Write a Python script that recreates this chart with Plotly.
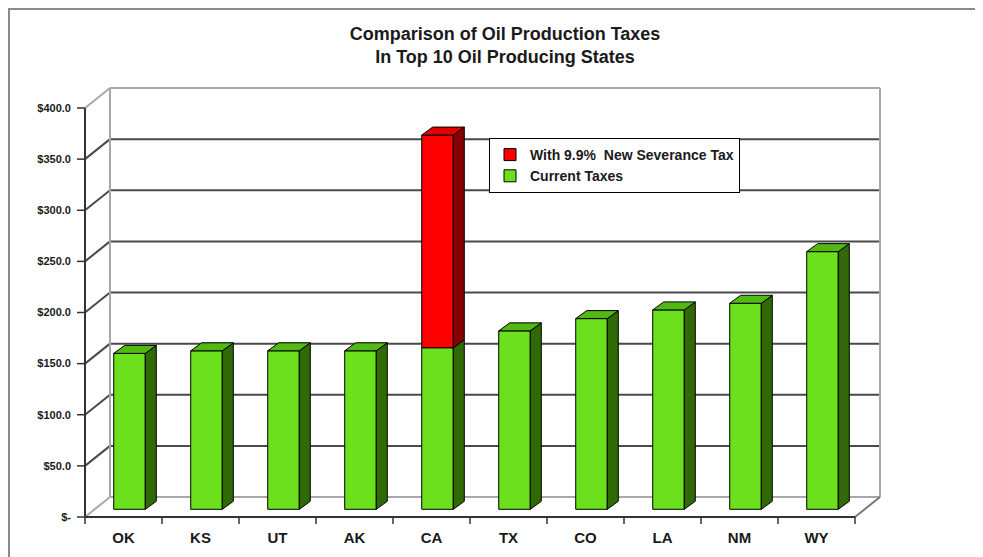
import plotly.graph_objects as go

# ---------------- data ----------------
states = ["OK", "KS", "UT", "AK", "CA", "TX", "CO", "LA", "NM", "WY"]
current_taxes = [152.5, 155.0, 155.0, 155.0, 158.0, 174.5, 186.5, 195.0, 201.5, 252.0]
new_severance_extra = [0, 0, 0, 0, 208.0, 0, 0, 0, 0, 0]
y_tick_values = [0, 50, 100, 150, 200, 250, 300, 350, 400]
y_tick_labels = ["$-", "$50.0", "$100.0", "$150.0", "$200.0", "$250.0", "$300.0", "$350.0", "$400.0"]
series_names = ["Current Taxes", "With 9.9%  New Severance Tax"]
title_lines = ["Comparison of Oil Production Taxes", "In Top 10 Oil Producing States"]

# ---------------- layout geometry ----------------
W, H = 983, 557
OFF = 8                      # page body margin of the html page
ML, MR, MT, MB = 66, 90, 69, 38
PX_X = 77.0      # pixels per category
PX_Y = 1.0225    # pixels per dollar
ORIGIN = (85 - OFF, 517 - OFF)
x_lo = -(ORIGIN[0] - ML) / PX_X
x_hi = x_lo + (W - ML - MR) / PX_X
y_hi = (ORIGIN[1] - MT) / PX_Y
y_lo = -(H - MB - ORIGIN[1]) / PX_Y

DX, DY = 25 / PX_X, 20 / PX_Y      # wall depth
BX, BY = 6 / PX_X, 7.7 / PX_Y      # bar front-face offset
BDX, BDY = 11 / PX_X, 8 / PX_Y     # bar depth
BW = 0.41
n = len(states)
vmax = y_tick_values[-1]

GREEN_F, GREEN_S, GREEN_T = "#6ce01c", "#2f6a06", "#52b812"
RED_F, RED_S, RED_T = "#ff0000", "#850000", "#e00000"
GRID = "#4a4a4a"
EDGE = "#a8a8a8"
FONT = "Liberation Sans"

shapes = []


def seg(xa, ya, xb, yb, color, width):
    shapes.append(dict(type="line", xref="x", yref="y",
                       x0=xa, y0=ya, x1=xb, y1=yb, layer="below",
                       line=dict(color=color, width=width)))


# walls + gridlines
for v in y_tick_values:
    col = EDGE if v in (y_tick_values[0], y_tick_values[-1]) else GRID
    seg(0, v, DX, v + DY, col, 2)
    seg(DX, v + DY, n + DX, v + DY, col, 2)
seg(DX, DY, DX, vmax + DY, EDGE, 2)
seg(n + DX, DY, n + DX, vmax + DY, EDGE, 2)
seg(n, 0, n + DX, DY, "#777777", 2)
# front axes
seg(0, 0, 0, vmax, "#333333", 2)
seg(0, 0, n, 0, "#333333", 2)
for v in y_tick_values:
    seg(-8 / PX_X, v, 0, v, "#333333", 1.5)
for i in range(n + 1):
    seg(i, 0, i, -7 / PX_Y, "#333333", 1.5)

plot_h = H - MT - MB
plot_w = W - ML - MR


def paper_x(px):
    return (px - OFF - ML) / plot_w


def paper_y(py):
    return (H - MB - (py - OFF)) / plot_h


# outer frame
shapes.append(dict(type="path", xref="paper", yref="paper",
                   path=f"M{paper_x(9)},{paper_y(570)} L{paper_x(9)},{paper_y(OFF + 1)} L{paper_x(1000)},{paper_y(OFF + 1)}",
                   line=dict(color="#8a8a8a", width=2)))

fig = go.Figure()

centers = [i + 0.5 + BX for i in range(n)]
fig.add_trace(go.Bar(x=centers, y=current_taxes, base=BY, width=BW,
                     name=series_names[0],
                     marker=dict(color=GREEN_F, line=dict(color="#000000", width=1))))
red_idx = [i for i in range(n) if new_severance_extra[i] > 0]
fig.add_trace(go.Bar(x=[centers[i] for i in red_idx],
                     y=[new_severance_extra[i] for i in red_idx],
                     base=[BY + current_taxes[i] for i in red_idx], width=BW,
                     name=series_names[1],
                     marker=dict(color=RED_F, line=dict(color="#000000", width=1))))


def faces(bottoms, tops, idxs, with_top):
    sx, sy, tx, ty = [], [], [], []
    for k, i in enumerate(idxs):
        xr = centers[i] + BW / 2
        xl = centers[i] - BW / 2
        b, t = bottoms[k], tops[k]
        sx += [xr, xr + BDX, xr + BDX, xr, xr, None]
        sy += [b, b + BDY, t + BDY, t, b, None]
        if with_top[k]:
            tx += [xl, xr, xr + BDX, xl + BDX, xl, None]
            ty += [t, t, t + BDY, t + BDY, t, None]
    return sx, sy, tx, ty


all_idx = list(range(n))
g_bot = [BY] * n
g_top = [BY + current_taxes[i] for i in all_idx]
g_has_top = [new_severance_extra[i] == 0 for i in all_idx]
sx, sy, tx, ty = faces(g_bot, g_top, all_idx, g_has_top)
for xs, ys, col in ((sx, sy, GREEN_S), (tx, ty, GREEN_T)):
    fig.add_trace(go.Scatter(x=xs, y=ys, mode="lines", fill="toself", fillcolor=col,
                             line=dict(color="#000000", width=1), showlegend=False,
                             hoverinfo="skip"))
r_bot = [BY + current_taxes[i] for i in red_idx]
r_top = [BY + current_taxes[i] + new_severance_extra[i] for i in red_idx]
sx, sy, tx, ty = faces(r_bot, r_top, red_idx, [True] * len(red_idx))
for xs, ys, col in ((sx, sy, RED_S), (tx, ty, RED_T)):
    fig.add_trace(go.Scatter(x=xs, y=ys, mode="lines", fill="toself", fillcolor=col,
                             line=dict(color="#000000", width=1), showlegend=False,
                             hoverinfo="skip"))

fig.update_layout(
    width=W, height=H, autosize=False,
    margin=dict(l=ML, r=MR, t=MT, b=MB, pad=0, autoexpand=False),
    paper_bgcolor="white", plot_bgcolor="white",
    barmode="overlay",
    shapes=shapes,
    title=dict(text="<br>".join(title_lines), x=(505 - OFF) / W, xref="container", xanchor="center",
               y=1 - 32 / H, yref="container", yanchor="top",
               font=dict(family=FONT, size=18, color="#1a1a1a", weight="bold"),
               automargin=False),
    xaxis=dict(range=[x_lo, x_hi], tickmode="array", tickvals=[i + 0.5 for i in range(n)],
               ticktext=states, ticks="", showgrid=False, zeroline=False, showline=False,
               automargin=False,
               tickfont=dict(family=FONT, size=15, color="#1a1a1a", weight="bold")),
    yaxis=dict(range=[y_lo, y_hi], tickmode="array", tickvals=y_tick_values,
               ticktext=y_tick_labels, ticks="", showgrid=False, zeroline=False, showline=False,
               automargin=False, ticklabelstandoff=2,
               tickfont=dict(family=FONT, size=11, color="#1a1a1a", weight="bold")),
    legend=dict(x=paper_x(489), y=paper_y(138), xanchor="left", yanchor="top",
                traceorder="reversed", bgcolor="white", bordercolor="#000000", borderwidth=1,
                font=dict(family=FONT, size=14, color="#1a1a1a", weight="bold"),
                itemwidth=30, tracegroupgap=0),
)

fig.write_html("out.html")
